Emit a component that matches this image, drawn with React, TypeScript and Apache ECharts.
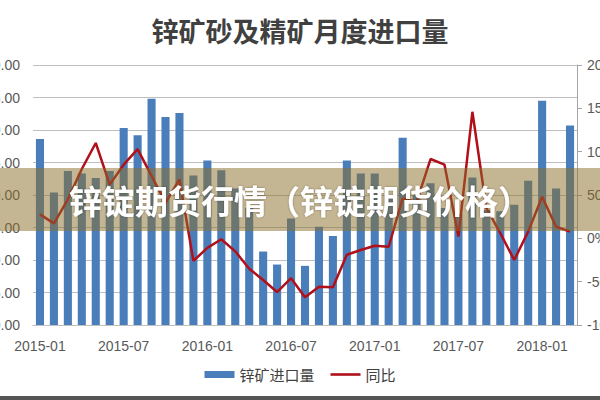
import React, { useEffect, useRef } from "react";
import * as echarts from "echarts";

const categories = [
  "2015-01", "2015-02", "2015-03", "2015-04", "2015-05", "2015-06", "2015-07", "2015-08", "2015-09", "2015-10", "2015-11", "2015-12",
  "2016-01", "2016-02", "2016-03", "2016-04", "2016-05", "2016-06", "2016-07", "2016-08", "2016-09", "2016-10", "2016-11", "2016-12",
  "2017-01", "2017-02", "2017-03", "2017-04", "2017-05", "2017-06", "2017-07", "2017-08", "2017-09", "2017-10", "2017-11", "2017-12",
  "2018-01", "2018-02", "2018-03",
];

const importVolume = [
  28.6, 20.4, 23.7, 23.3, 22.6, 23.7, 30.3, 29.2, 34.8, 32.0, 32.6, 23.0,
  25.3, 23.8, 21.0, 18.0, 11.3, 9.3, 16.4, 9.1, 15.1, 13.7, 25.3, 23.3,
  23.3, 20.0, 28.8, 20.0, 21.8, 18.0, 17.0, 22.7, 17.7, 17.5, 18.5, 22.2,
  34.5, 21.0, 30.7,
];

const yoy = [
  27.7, 17.3, 45, 80, 110, 62, 85, 103, 72, 41, 68, -26,
  -11, -1, -15, -35, -48, -62, -46, -68, -56, -56.5, -19, -13.5,
  -8.5, -9.7, 46, 42, 91.5, 85, 2, 146, 35, 6, -25, 7.7,
  48, 13.4, 7.7,
];

const titleText = "锌矿砂及精矿月度进口量";
const bannerText = "锌锭期货行情（锌锭期货价格）";
const seriesNames = ["锌矿进口量", "同比"];

const FONT = "'Noto Sans CJK SC', 'Liberation Sans', sans-serif";

export default function App() {
  const ref = useRef<HTMLDivElement>(null);
  useEffect(() => {
    if (!ref.current) return;
    const chart = echarts.init(ref.current, null, { renderer: "svg" });
    chart.setOption({
      animation: false,
      backgroundColor: "#ffffff",
      textStyle: { fontFamily: FONT },
      title: {
        text: titleText,
        left: "center",
        top: 12,
        textStyle: { fontSize: 27, fontWeight: "bold", color: "#404040", fontFamily: FONT },
      },
      grid: {
        left: 33,
        right: 23,
        top: 65,
        bottom: 75,
        containLabel: false,
        outerBoundsMode: "none",
      },
      legend: {
        bottom: 13,
        left: "center",
        itemWidth: 30,
        itemHeight: 7,
        itemGap: 16,
        symbolKeepAspect: true,
        textStyle: { fontSize: 15, color: "#404040", fontFamily: FONT },
        data: [
          { name: seriesNames[0], icon: "rect" },
          { name: seriesNames[1], icon: "path://M0,0H30V2.6H0Z" },
        ],
      },
      xAxis: {
        type: "category",
        data: categories,
        boundaryGap: true,
        axisLine: { show: true, lineStyle: { color: "#bfbfbf", width: 1 } },
        axisTick: { show: false },
        axisLabel: {
          interval: 5,
          margin: 14,
          fontSize: 14,
          color: "#595959",
          fontFamily: "'Liberation Sans', sans-serif",
        },
      },
      yAxis: [
        {
          type: "value",
          min: 0,
          max: 40,
          interval: 5,
          axisLine: { show: false },
          axisTick: { show: false },
          splitLine: { lineStyle: { color: "#bfbfbf", width: 1 } },
          axisLabel: {
            margin: 13,
            fontSize: 14,
            color: "#595959",
            fontFamily: "'Liberation Sans', sans-serif",
            formatter: (v: number) => v.toFixed(2),
          },
        },
        {
          type: "value",
          min: -100,
          max: 200,
          interval: 50,
          position: "right",
          axisLine: { show: true, lineStyle: { color: "#a6a6a6", width: 1 } },
          axisTick: { show: true, length: 5, lineStyle: { color: "#a6a6a6" } },
          splitLine: { show: false },
          axisLabel: {
            margin: 10,
            fontSize: 14,
            color: "#595959",
            fontFamily: "'Liberation Sans', sans-serif",
            formatter: (v: number) => v + "%",
          },
        },
      ],
      series: [
        {
          name: seriesNames[0],
          type: "bar",
          data: importVolume,
          barWidth: "58%",
          itemStyle: { color: "#4a7ebb" },
          yAxisIndex: 0,
        },
        {
          name: seriesNames[1],
          type: "line",
          data: yoy,
          yAxisIndex: 1,
          symbol: "none",
          lineStyle: { color: "#b0101a", width: 2.5 },
          itemStyle: { color: "#b0101a" },
        },
      ],
      graphic: [
        {
          type: "rect",
          left: 0,
          top: 168,
          z: 100,
          shape: { width: 600, height: 63 },
          style: { fill: "rgba(140,110,40,0.5)" },
        },
        {
          type: "text",
          x: 300,
          y: 200,
          z: 101,
          style: {
            text: bannerText,
            fill: "#ffffff",
            fontSize: 33,
            fontWeight: "bold",
            fontFamily: FONT,
            align: "center",
            verticalAlign: "middle",
            textShadowColor: "rgba(0,0,0,0.35)",
            textShadowBlur: 2,
          },
        },
        {
          type: "rect",
          left: 0,
          top: 396,
          z: 100,
          shape: { width: 600, height: 4 },
          style: { fill: "#555555" },
        },
      ],
    });
    return () => chart.dispose();
  }, []);
  return (
    <div
      ref={ref}
      style={{ position: "fixed", left: 0, top: 0, width: 600, height: 400 }}
    />
  );
}
